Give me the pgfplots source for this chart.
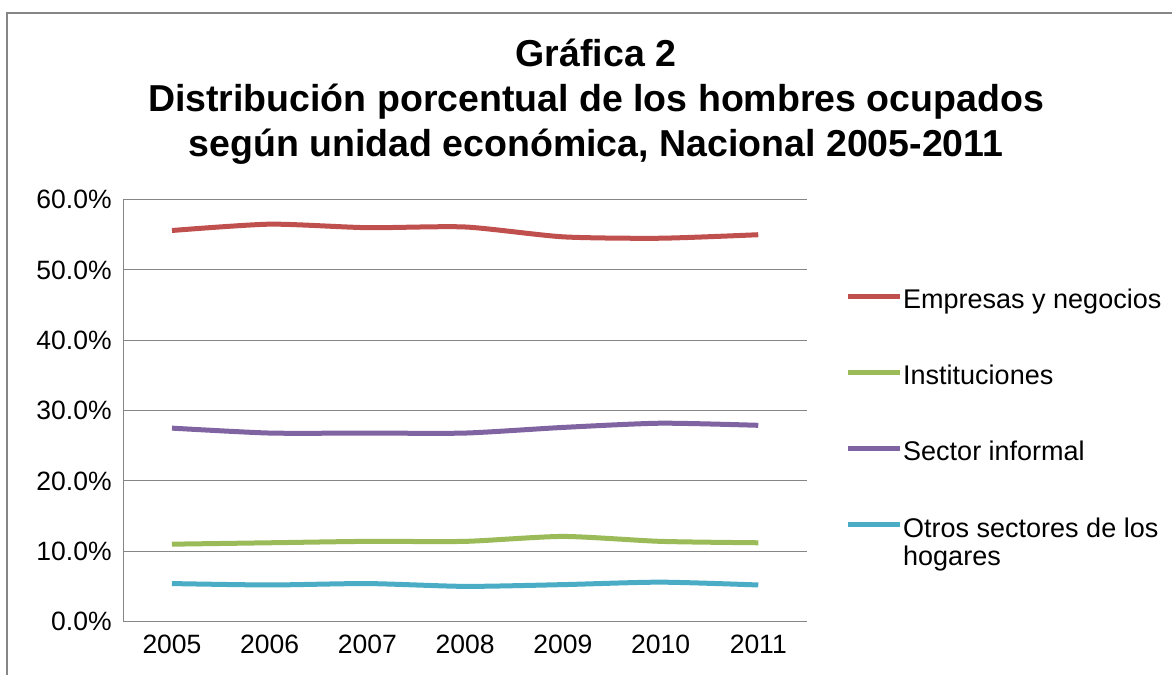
\documentclass[border=0pt]{standalone}
\usepackage{pgfplots}
\pgfplotsset{compat=1.18}
\usepackage{fontspec}
\setmainfont{Liberation Sans}
\definecolor{cred}{RGB}{192,80,77}
\definecolor{cgreen}{RGB}{155,187,89}
\definecolor{cpurple}{RGB}{128,100,162}
\definecolor{ccyan}{RGB}{75,172,198}
\definecolor{cgrid}{RGB}{134,134,134}
\begin{document}
\begin{tikzpicture}[x=1pt,y=1pt]
\path[use as bounding box] (0,0) rectangle (1172,675);
\draw[cgrid,line width=2.5pt] (7,0) -- (7,662) -- (1172,662);
\node[font=\fontsize{37.5}{45}\selectfont\bfseries,align=center,anchor=north] at (596,640)
  {Gráfica 2\\Distribución porcentual de los hombres ocupados\\según unidad económica, Nacional 2005-2011};
\begin{axis}[
  at={(126,76)}, anchor=south west,
  width=684pt, height=422pt, scale only axis,
  xmin=-0.5, xmax=6.5, ymin=0, ymax=60,
  xtick={0,...,6}, xticklabels={2005,2006,2007,2008,2009,2010,2011},
  ytick={0,10,...,60},
  yticklabel={\pgfmathprintnumber[fixed,fixed zerofill,precision=1]{\tick}\%},
  /pgf/number format/assume math mode=true,
  ticklabel style={font=\fontsize{26.5}{31}\selectfont},
  yticklabel style={xshift=-8pt},
  xticklabel style={yshift=-10pt},
  major tick length=0pt,
  ymajorgrids, grid style={cgrid,line width=1.2pt},
  axis line style={cgrid,line width=1.2pt},
  axis x line*=bottom, axis y line*=left,
  x axis line style={-}, y axis line style={-},
  every axis plot/.append style={line width=5pt, smooth, tension=0.4},
  legend style={at={(axis description cs:1.051,0.795)}, anchor=north west, draw=none, fill=none,
    font=\fontsize{27}{31}\selectfont, row sep=53pt,
    /tikz/every even column/.append style={column sep=0pt},
    nodes={inner sep=1pt}},
  legend cell align=left,
  legend image code/.code={\draw[#1,line width=5pt] (0pt,0.36em) -- (52pt,0.36em);},
]
\addplot[cred] coordinates {(0,55.6) (1,56.5) (2,56.0) (3,56.1) (4,54.7) (5,54.5) (6,55.0)};
\addlegendentry{Empresas y negocios}
\addplot[cgreen] coordinates {(0,11.0) (1,11.2) (2,11.4) (3,11.4) (4,12.1) (5,11.4) (6,11.2)};
\addlegendentry{Instituciones}
\addplot[cpurple] coordinates {(0,27.5) (1,26.8) (2,26.8) (3,26.8) (4,27.6) (5,28.2) (6,27.9)};
\addlegendentry{Sector informal}
\addplot[ccyan] coordinates {(0,5.4) (1,5.2) (2,5.4) (3,5.0) (4,5.25) (5,5.6) (6,5.2)};
\addlegendentry{\parbox[t]{300pt}{\raggedright Otros sectores de los\\[-3pt]hogares}}
\end{axis}
\end{tikzpicture}
\end{document}
